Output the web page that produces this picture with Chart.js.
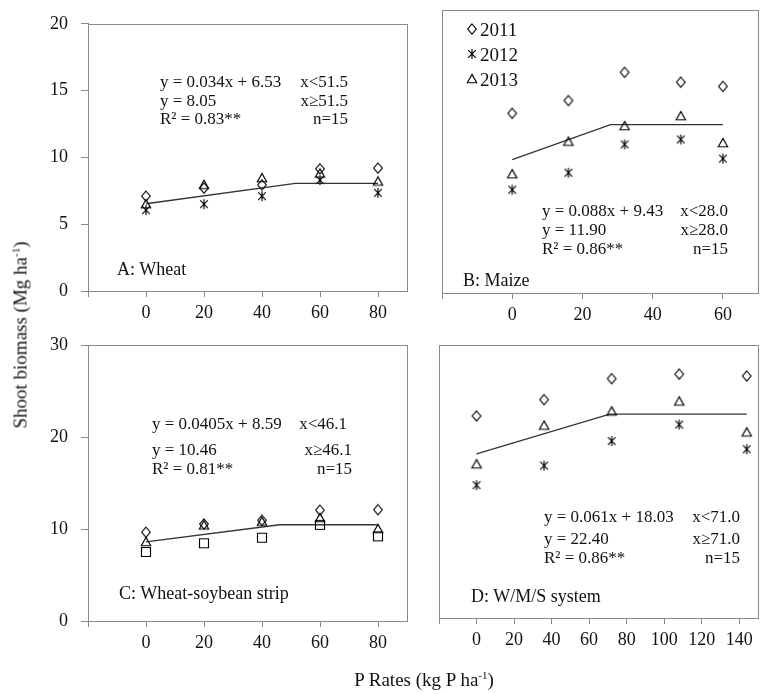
<!DOCTYPE html>
<html><head><meta charset="utf-8">
<script src="https://cdn.jsdelivr.net/npm/chart.js@4.4.1/dist/chart.umd.min.js"></script>
<style>
html,body{margin:0;padding:0;background:#fff;}
#wrap{position:relative;width:764px;height:694px;overflow:hidden;font-family:'Liberation Serif','Times New Roman',serif;color:#111;}
#wrap canvas.chart{position:absolute;left:0;top:0;}
.t{position:absolute;white-space:nowrap;font-size:17px;line-height:1;transform:translateY(-50%);}
.r{text-align:right;}
.p{font-size:18px;}
.lgt{font-size:19px;}
.lg{position:absolute;}
.ax{position:absolute;white-space:nowrap;font-size:19px;line-height:1;}
sup{font-size:11px;vertical-align:7px;line-height:0;}
</style></head>
<body><div id="wrap">
<canvas class="chart" id="cA" width="764" height="694"></canvas>
<canvas class="chart" id="cB" width="764" height="694"></canvas>
<canvas class="chart" id="cC" width="764" height="694"></canvas>
<canvas class="chart" id="cD" width="764" height="694"></canvas>

<div class="t" style="left:160px;top:81px">y = 0.034x + 6.53</div>
<div class="t r" style="right:416px;top:81px">x&lt;51.5</div>
<div class="t" style="left:160px;top:100px">y = 8.05</div>
<div class="t r" style="right:416px;top:100px">x≥51.5</div>
<div class="t" style="left:160px;top:118px">R² = 0.83**</div>
<div class="t r" style="right:416px;top:118px">n=15</div>
<div class="t p" style="left:117px;top:269px">A: Wheat</div>

<div class="t" style="left:542px;top:210px">y = 0.088x + 9.43</div>
<div class="t r" style="right:36px;top:210px">x&lt;28.0</div>
<div class="t" style="left:542px;top:229px">y = 11.90</div>
<div class="t r" style="right:36px;top:229px">x≥28.0</div>
<div class="t" style="left:542px;top:248px">R² = 0.86**</div>
<div class="t r" style="right:36px;top:248px">n=15</div>
<div class="t p" style="left:463px;top:280px">B: Maize</div>

<div class="t" style="left:152px;top:423px">y = 0.0405x + 8.59</div>
<div class="t r" style="right:417px;top:423px">x&lt;46.1</div>
<div class="t" style="left:152px;top:449px">y = 10.46</div>
<div class="t r" style="right:412px;top:449px">x≥46.1</div>
<div class="t" style="left:152px;top:468px">R² = 0.81**</div>
<div class="t r" style="right:412px;top:468px">n=15</div>
<div class="t p" style="left:119px;top:593px">C: Wheat-soybean strip</div>

<div class="t" style="left:544px;top:516px">y = 0.061x + 18.03</div>
<div class="t r" style="right:24px;top:516px">x&lt;71.0</div>
<div class="t" style="left:544px;top:538px">y = 22.40</div>
<div class="t r" style="right:24px;top:538px">x≥71.0</div>
<div class="t" style="left:544px;top:557px">R² = 0.86**</div>
<div class="t r" style="right:24px;top:557px">n=15</div>
<div class="t p" style="left:471px;top:596px">D: W/M/S system</div>

<div class="ax" id="ytitle" style="left:20px;top:335px;transform:translate(-50%,-50%) rotate(-90deg);">Shoot biomass (Mg ha<sup>-1</sup>)</div>
<div class="ax" id="xtitle" style="left:424px;top:679px;transform:translate(-50%,-50%);">P Rates (kg P ha<sup>-1</sup>)</div>
<div id="legend"></div>
</div>
<script>
// ---- data ----
const ratesWheat = [0, 20, 40, 60, 80];
const wheat2011 = [7.1, 7.7, 7.95, 9.15, 9.2];
const wheat2012 = [6.05, 6.5, 7.1, 8.3, 7.35];
const wheat2013 = [6.5, 7.95, 8.45, 8.8, 8.2];
const wheatFitX = [0, 51.5, 80];
const wheatFitY = [6.53, 8.05, 8.05];

const ratesMaize = [0, 16, 32, 48, 60];
const maize2011 = [12.7, 13.6, 15.6, 14.9, 14.6];
const maize2012 = [7.3, 8.5, 10.5, 10.85, 9.5];
const maize2013 = [8.4, 10.7, 11.8, 12.5, 10.6];
const maizeFitX = [0, 28, 60];
const maizeFitY = [9.43, 11.90, 11.90];

const ratesStrip = [0, 20, 40, 60, 80];
const strip2011 = [9.65, 10.55, 10.95, 12.05, 12.1];
const strip2012 = [7.5, 8.45, 9.05, 10.45, 9.2];
const strip2013 = [8.6, 10.4, 10.8, 11.2, 10.0];
const stripFitX = [0, 46.1, 80];
const stripFitY = [8.59, 10.46, 10.46];

const ratesSystem = [0, 36, 72, 108, 144];
const system2011 = [22.2, 24.0, 26.3, 26.8, 26.6];
const system2012 = [14.6, 16.75, 19.45, 21.25, 18.55];
const system2013 = [16.9, 21.15, 22.7, 23.8, 20.4];
const systemFitX = [0, 71, 144];
const systemFitY = [18.03, 22.40, 22.40];

const yearLabels = ['2011', '2012', '2013'];
const wheatYTicks = [0, 5, 10, 15, 20];
const stripYTicks = [0, 10, 20, 30];

// ---- styling ----
const FONT = "'Liberation Serif', 'Times New Roman', serif";
const AXIS = '#8a8a8a';
const W = 764, H = 694;

function makeMarker(kind) {
  const s = 14, m = 7;
  const c = document.createElement('canvas');
  c.width = s; c.height = s;
  const g = c.getContext('2d');
  g.strokeStyle = '#000'; g.lineWidth = 1.15;
  g.beginPath();
  if (kind === 'diamond') { g.moveTo(m, m - 5); g.lineTo(m + 4.3, m); g.lineTo(m, m + 5); g.lineTo(m - 4.3, m); g.closePath(); }
  else if (kind === 'triangle') { g.moveTo(m, m - 4.6); g.lineTo(m + 4.7, m + 3.7); g.lineTo(m - 4.7, m + 3.7); g.closePath(); }
  else if (kind === 'square') { g.rect(m - 4.5, m - 4.5, 9, 9); }
  else if (kind === 'star') { g.moveTo(m - 3.8, m - 3.8); g.lineTo(m + 3.8, m + 3.8); g.moveTo(m + 3.8, m - 3.8); g.lineTo(m - 3.8, m + 3.8); g.moveTo(m, m - 5); g.lineTo(m, m + 5); }
  g.stroke();
  return c;
}
const MK = { diamond: makeMarker('diamond'), star: makeMarker('star'), triangle: makeMarker('triangle'), square: makeMarker('square') };

function pts(xs, ys) { return xs.map((x, i) => ({ x: x, y: ys[i] })); }
function pointSet(label, xs, ys, marker) {
  return { type: 'scatter', label: label, data: pts(xs, ys), pointStyle: marker, pointRadius: 5, pointHoverRadius: 5,
    borderColor: '#000', backgroundColor: 'transparent', showLine: false, order: 1 };
}
function fitSet(xs, ys) {
  return { type: 'line', label: 'fit', data: pts(xs, ys), borderColor: '#333', borderWidth: 1.3, pointRadius: 0,
    fill: false, tension: 0, order: 2 };
}

const boxPlugin = {
  id: 'box',
  beforeDatasetsDraw(chart) {
    const { ctx, chartArea: a } = chart;
    ctx.save();
    ctx.strokeStyle = AXIS; ctx.lineWidth = 1;
    ctx.strokeRect(Math.round(a.left) + 0.5, Math.round(a.top) + 0.5, Math.round(a.right - a.left), Math.round(a.bottom - a.top));
    ctx.restore();
  }
};

function makeChart(id, area, xMin, xMax, yMax, yTicks, showY, datasets) {
  const yw = 60, xh = 40;
  return new Chart(document.getElementById(id), {
    type: 'scatter',
    data: { datasets: datasets },
    options: {
      responsive: false, animation: false, devicePixelRatio: 1,
      events: [],
      layout: { padding: { left: area.l - yw, top: area.t, right: W - area.r, bottom: H - area.b - xh } },
      plugins: { legend: { display: false }, tooltip: { enabled: false } },
      scales: {
        x: {
          type: 'linear', min: xMin, max: xMax,
          afterFit: (s) => { s.height = xh; },
          ticks: { stepSize: 20, includeBounds: false, autoSkip: false, maxRotation: 0, color: '#111', padding: 5,
            font: { family: FONT, size: 18 }, callback: (v) => (v < 0 ? '' : String(v)) },
          grid: { drawOnChartArea: false, drawTicks: true, tickLength: 6, color: AXIS },
          border: { display: true, color: AXIS, width: 1 }
        },
        y: {
          type: 'linear', min: 0, max: yMax,
          afterFit: (s) => { s.width = yw; },
          afterBuildTicks: (s) => { s.ticks = yTicks.map(v => ({ value: v })); },
          ticks: { display: showY, color: '#111', padding: 13, font: { family: FONT, size: 18 } },
          grid: { drawOnChartArea: false, drawTicks: showY, tickLength: 7, color: AXIS },
          border: { display: true, color: AXIS, width: 1 }
        }
      }
    },
    plugins: [boxPlugin]
  });
}

makeChart('cA', { l: 88, r: 407, t: 12, b: 291 }, -20, 90, 20, wheatYTicks, true, [
  fitSet(wheatFitX, wheatFitY),
  pointSet(yearLabels[0], ratesWheat, wheat2011, MK.diamond),
  pointSet(yearLabels[1], ratesWheat, wheat2012, MK.star),
  pointSet(yearLabels[2], ratesWheat, wheat2013, MK.triangle)
]);
makeChart('cB', { l: 442, r: 758, t: 10, b: 293 }, -20, 70, 20, wheatYTicks, false, [
  fitSet(maizeFitX, maizeFitY),
  pointSet(yearLabels[0], ratesMaize, maize2011, MK.diamond),
  pointSet(yearLabels[1], ratesMaize, maize2012, MK.star),
  pointSet(yearLabels[2], ratesMaize, maize2013, MK.triangle)
]);
makeChart('cC', { l: 88, r: 407, t: 345, b: 621 }, -20, 90, 30, stripYTicks, true, [
  fitSet(stripFitX, stripFitY),
  pointSet(yearLabels[0], ratesStrip, strip2011, MK.diamond),
  pointSet(yearLabels[1], ratesStrip, strip2012, MK.square),
  pointSet(yearLabels[2], ratesStrip, strip2013, MK.triangle)
]);
makeChart('cD', { l: 439, r: 758, t: 345, b: 618 }, -20, 150, 30, stripYTicks, false, [
  fitSet(systemFitX, systemFitY),
  pointSet(yearLabels[0], ratesSystem, system2011, MK.diamond),
  pointSet(yearLabels[1], ratesSystem, system2012, MK.star),
  pointSet(yearLabels[2], ratesSystem, system2013, MK.triangle)
]);

// legend (panel B)
const legendMarkers = [makeMarker('diamond'), makeMarker('star'), makeMarker('triangle')];
const legendRows = [29, 54, 79];
const lg = document.getElementById('legend');
yearLabels.forEach((lab, i) => {
  const mk = legendMarkers[i];
  mk.className = 'lg';
  mk.style.left = (472 - 7) + 'px';
  mk.style.top = (legendRows[i] - 7) + 'px';
  lg.appendChild(mk);
  const d = document.createElement('div');
  d.className = 't lgt';
  d.style.left = '480px';
  d.style.top = legendRows[i] + 'px';
  d.textContent = lab;
  lg.appendChild(d);
});
</script>
</body></html>
